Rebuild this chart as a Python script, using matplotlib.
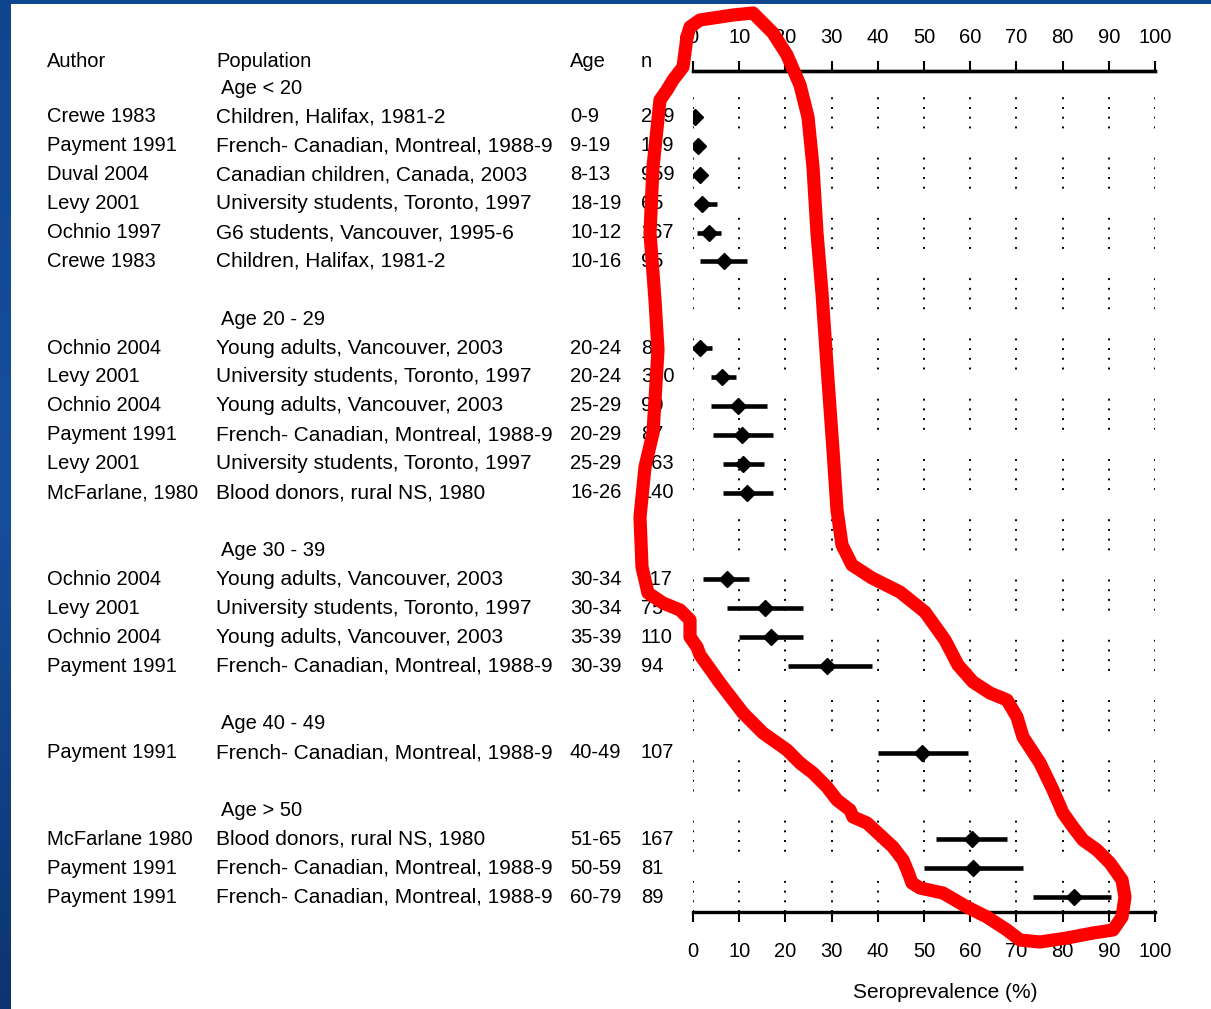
import numpy as np
import matplotlib
matplotlib.use("Agg")
import matplotlib.pyplot as plt
from matplotlib import transforms
from matplotlib.lines import Line2D
from matplotlib.patches import Rectangle
from matplotlib.colors import LinearSegmentedColormap

plt.rcParams["font.family"] = ["Liberation Sans", "DejaVu Sans"]

# ----------------
# DATA
# ----------------
groups = ["Age < 20", "Age 20 - 29", "Age 30 - 39", "Age 40 - 49", "Age > 50"]
group_sizes = [6, 6, 4, 1, 3]

authors = ["Crewe 1983", "Payment 1991", "Duval 2004", "Levy 2001", "Ochnio 1997", "Crewe 1983",
           "Ochnio 2004", "Levy 2001", "Ochnio 2004", "Payment 1991", "Levy 2001", "McFarlane, 1980",
           "Ochnio 2004", "Levy 2001", "Ochnio 2004", "Payment 1991",
           "Payment 1991",
           "McFarlane 1980", "Payment 1991", "Payment 1991"]

populations = ["Children, Halifax, 1981-2",
               "French- Canadian, Montreal, 1988-9",
               "Canadian children, Canada, 2003",
               "University students, Toronto, 1997",
               "G6 students, Vancouver, 1995-6",
               "Children, Halifax, 1981-2",
               "Young adults, Vancouver, 2003",
               "University students, Toronto, 1997",
               "Young adults, Vancouver, 2003",
               "French- Canadian, Montreal, 1988-9",
               "University students, Toronto, 1997",
               "Blood donors, rural NS, 1980",
               "Young adults, Vancouver, 2003",
               "University students, Toronto, 1997",
               "Young adults, Vancouver, 2003",
               "French- Canadian, Montreal, 1988-9",
               "French- Canadian, Montreal, 1988-9",
               "Blood donors, rural NS, 1980",
               "French- Canadian, Montreal, 1988-9",
               "French- Canadian, Montreal, 1988-9"]

ages = ["0-9", "9-19", "8-13", "18-19", "10-12", "10-16",
        "20-24", "20-24", "25-29", "20-29", "25-29", "16-26",
        "30-34", "30-34", "35-39", "30-39",
        "40-49",
        "51-65", "50-59", "60-79"]

ns = ["219", "159", "959", "65", "167", "95",
      "81", "300", "90", "87", "163", "140",
      "117", "75", "110", "94",
      "107",
      "167", "81", "89"]

est = [0.4, 1.0, 1.5, 2.0, 3.5, 6.7,
       1.5, 6.3, 9.8, 10.6, 10.8, 11.7,
       7.3, 15.6, 16.9, 29.0,
       49.6,
       60.4, 60.6, 82.5]
lo = [0.0, 0.2, 0.8, 0.4, 0.8, 1.5,
      0.0, 3.9, 3.9, 4.3, 6.5, 6.5,
      2.2, 7.4, 10.0, 20.6,
      40.0,
      52.6, 50.0, 73.6]
hi = [1.0, 2.0, 2.5, 5.2, 6.0, 11.7,
      4.1, 9.3, 16.0, 17.4, 15.4, 17.4,
      12.1, 23.8, 23.8, 38.7,
      59.5,
      68.0, 71.4, 90.5]

xticks = [0, 10, 20, 30, 40, 50, 60, 70, 80, 90, 100]

# hand-drawn red outline (figure pixels, y from top)
red_outline = [(687, 37), (690, 27), (700, 20), (733, 15), (753, 13), (773, 33), (787, 55),
               (800, 85), (808, 117), (813, 167), (817, 233), (822, 293), (828, 380), (833, 450),
               (837, 510), (842, 545), (852, 565), (872, 578), (900, 592), (925, 612), (945, 640),
               (958, 665), (973, 682), (990, 693), (1007, 700), (1017, 717), (1023, 737),
               (1040, 763), (1053, 790), (1063, 813), (1073, 827), (1083, 840), (1097, 850),
               (1110, 863), (1122, 880), (1125, 897), (1122, 917), (1113, 930), (1093, 933),
               (1067, 938), (1040, 942), (1020, 940), (1007, 930), (987, 917), (967, 907),
               (943, 893), (920, 888), (912, 883), (908, 872), (903, 860), (893, 847), (880, 835),
               (867, 823), (853, 817), (850, 810), (837, 800), (827, 787), (813, 773), (800, 763),
               (787, 750), (763, 733), (743, 713), (720, 683), (700, 655), (697, 647), (690, 637),
               (690, 620), (680, 610), (663, 603), (648, 593), (642, 567), (640, 517), (645, 467),
               (653, 433), (658, 350), (655, 300), (650, 233), (653, 167), (660, 100), (667, 90),
               (673, 80), (683, 67), (687, 37)]

# ----------------
# ROW LAYOUT
# ----------------
header_rows = []
study_rows = []
r = 0
for size in group_sizes:
    header_rows.append(r)
    study_rows.extend(range(r + 1, r + 1 + size))
    r += size + 2

W, H = 1211, 1009
ROW0_PX, ROW_PX = 88, 28.9
AX_LEFT, AX_RIGHT, AX_TOP, AX_BOT = 693, 1155, 71, 912

fig = plt.figure(figsize=(W / 100, H / 100), dpi=100)

# blue slide background + white panel
bg = fig.add_axes([0, 0, 1, 1], zorder=-10)
cmap = LinearSegmentedColormap.from_list("slide", ["#0f478f", "#164f9c", "#0c3470"])
bg.imshow(np.linspace(0, 1, 256).reshape(-1, 1), aspect="auto", cmap=cmap, extent=[0, 1, 0, 1])
bg.add_patch(Rectangle((11 / W, 0), 1 - 11 / W, 1 - 4 / H, facecolor="white",
                       edgecolor="none", transform=bg.transAxes))
bg.set_xlim(0, 1)
bg.set_ylim(0, 1)
bg.axis("off")

ax = fig.add_axes([AX_LEFT / W, 1 - AX_BOT / H, (AX_RIGHT - AX_LEFT) / W, (AX_BOT - AX_TOP) / H])
ax.patch.set_alpha(0)
ax.set_xlim(0, 100)
ax.set_ylim((AX_BOT - ROW0_PX) / ROW_PX, (AX_TOP - ROW0_PX) / ROW_PX)

for s in ["left", "right"]:
    ax.spines[s].set_visible(False)
for s in ["top", "bottom"]:
    ax.spines[s].set_linewidth(2.4)
ax.set_yticks([])
ax.set_xticks(xticks)
ax.tick_params(axis="x", direction="out", length=7.5, width=1.5, pad=14, labelsize=14.5)

top = ax.secondary_xaxis("top")
top.set_xticks(xticks)
top.spines["top"].set_linewidth(2.4)
top.tick_params(axis="x", direction="out", length=7.5, width=1.5, pad=10, labelsize=14.5)

# dotted reference lines
for t in xticks:
    ax.axvline(t, color="black", lw=1.4, linestyle=(0, (1, 4, 1, 4, 1, 4, 1, 15)), zorder=1)

# CIs and estimates
ax.hlines(study_rows, lo, hi, color="black", lw=3.3, zorder=3)
ax.plot(est, study_rows, "D", ms=8.5, color="black", zorder=4)

ax.text((945 - AX_LEFT) / (AX_RIGHT - AX_LEFT), -80 / (AX_BOT - AX_TOP), "Seroprevalence (%)",
        transform=ax.transAxes, ha="center", va="center", fontsize=15)

# text columns
tr = transforms.blended_transform_factory(fig.transFigure, ax.transData)
fs = 14.5
col_author, col_pop, col_group, col_age, col_n = 47 / W, 216 / W, 221 / W, 570 / W, 641 / W

for x, label in [(col_author, "Author"), (col_pop, "Population"), (col_age, "Age"), (col_n, "n")]:
    ax.text(x, -0.93, label, transform=tr, ha="left", va="center", fontsize=fs, clip_on=False)

for row, g in zip(header_rows, groups):
    ax.text(col_group, row, g, transform=tr, ha="left", va="center", fontsize=fs, clip_on=False)

for row, a, p, ag, n in zip(study_rows, authors, populations, ages, ns):
    ax.text(col_author, row, a, transform=tr, ha="left", va="center", fontsize=fs, clip_on=False)
    ax.text(col_pop, row, p, transform=tr, ha="left", va="center", fontsize=15, clip_on=False)
    ax.text(col_age, row, ag, transform=tr, ha="left", va="center", fontsize=fs, clip_on=False)
    ax.text(col_n, row, n, transform=tr, ha="left", va="center", fontsize=fs, clip_on=False)

# red annotation
rx = [p[0] / W for p in red_outline]
ry = [1 - p[1] / H for p in red_outline]
fig.add_artist(Line2D(rx, ry, color="#ff0000", lw=9.5, solid_joinstyle="round",
                      solid_capstyle="round", transform=fig.transFigure, zorder=10))

fig.savefig("out.png", dpi=100)
